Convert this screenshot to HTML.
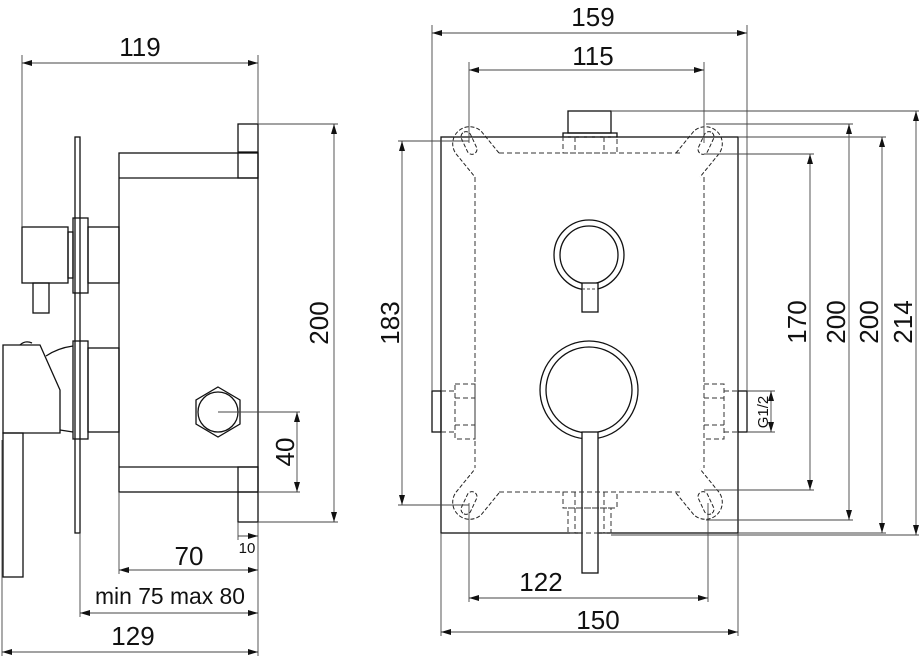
<!DOCTYPE html>
<html><head><meta charset="utf-8"><style>
html,body{margin:0;padding:0;background:#fff;}
svg{display:block;}
text{font-family:"Liberation Sans",sans-serif;fill:#111;}
</style></head><body>
<svg width="920" height="662" viewBox="0 0 920 662" xmlns="http://www.w3.org/2000/svg">
<defs>
<marker id="a" viewBox="0 0 10 6" refX="10" refY="3" markerWidth="10" markerHeight="6" orient="auto-start-reverse" markerUnits="userSpaceOnUse"><path d="M0 0 L10 3 L0 6 Z" fill="#111"/></marker>
<g id="lug">
<path d="M30 10 L12 -12 A17 17 0 0 0 -12 12 L6 34" fill="none" stroke="#222" stroke-width="1" stroke-dasharray="4 2"/>
<rect x="-5" y="-12" width="10" height="24" rx="5" transform="rotate(-25)" fill="none" stroke="#222" stroke-width="1" stroke-dasharray="4 2"/>
</g>
</defs>

<!-- ============ LEFT VIEW ============ -->
<g fill="none" stroke="#111" stroke-width="1.3">
<rect x="75" y="137" width="5" height="396"/>
<rect x="119" y="153" width="139" height="339"/>
<line x1="119" y1="178" x2="258" y2="178"/>
<line x1="119" y1="467" x2="258" y2="467"/>
<rect x="238" y="124" width="20" height="54"/>
<line x1="238" y1="152" x2="258" y2="152"/>
<rect x="238" y="467" width="20" height="55"/>
<line x1="238" y1="492" x2="258" y2="492"/>
<rect x="73" y="218" width="15" height="75"/>
<rect x="88" y="227" width="31" height="56"/>
<rect x="22" y="227" width="46" height="56"/>
<rect x="68" y="232" width="5" height="46"/>
<rect x="33" y="283" width="16" height="30"/>
<rect x="73" y="341" width="15" height="98"/>
<rect x="88" y="348" width="31" height="84"/>
<path d="M3 345 L40 345 L60 390 L60 433 L3 433 Z"/>
<path d="M20 345 Q25 340 32 343" />
<path d="M46 356 Q58 348 73 346"/>
<path d="M60 430 L73 432"/>
<rect x="3" y="433" width="20" height="144"/>
<polygon points="218,387 240,400 240,424 218,437 196,424 196,400"/>
<circle cx="218" cy="412" r="20"/>
</g>

<g stroke="#444" stroke-width="0.9" fill="none">
<line x1="22" y1="55" x2="22" y2="227"/>
<line x1="258" y1="55" x2="258" y2="124"/>
<line x1="22" y1="63" x2="258" y2="63" marker-start="url(#a)" marker-end="url(#a)"/>
<line x1="258" y1="124" x2="338" y2="124"/>
<line x1="258" y1="522" x2="338" y2="522"/>
<line x1="334" y1="124" x2="334" y2="522" marker-start="url(#a)" marker-end="url(#a)"/>
<line x1="218" y1="412" x2="300" y2="412"/>
<line x1="258" y1="492" x2="300" y2="492"/>
<line x1="297" y1="412" x2="297" y2="492" marker-start="url(#a)" marker-end="url(#a)"/>
<line x1="238" y1="522" x2="238" y2="540"/>
<line x1="238" y1="536" x2="258" y2="536" marker-end="url(#a)"/>
<line x1="119" y1="492" x2="119" y2="574"/>
<line x1="258" y1="522" x2="258" y2="656"/>
<line x1="119" y1="570" x2="258" y2="570" marker-start="url(#a)" marker-end="url(#a)"/>
<line x1="80" y1="533" x2="80" y2="617"/>
<line x1="80" y1="613" x2="258" y2="613" marker-start="url(#a)" marker-end="url(#a)"/>
<line x1="2" y1="440" x2="2" y2="656"/>
<line x1="2" y1="652" x2="258" y2="652" marker-start="url(#a)" marker-end="url(#a)"/>
</g>
<text x="140" y="56" font-size="26" text-anchor="middle">119</text>
<text transform="translate(328,323) rotate(-90)" font-size="26" text-anchor="middle">200</text>
<text transform="translate(294,452) rotate(-90)" font-size="26" text-anchor="middle">40</text>
<text x="247" y="553" font-size="15" text-anchor="middle">10</text>
<text x="189" y="565" font-size="26" text-anchor="middle">70</text>
<text x="170" y="604" font-size="23" text-anchor="middle" textLength="150" lengthAdjust="spacingAndGlyphs">min 75  max 80</text>
<text x="133" y="645" font-size="26" text-anchor="middle">129</text>

<!-- ============ RIGHT VIEW ============ -->
<g fill="none" stroke="#111" stroke-width="1.3">
<rect x="441" y="137" width="297" height="396"/>
<rect x="568" y="111" width="43" height="22"/>
<rect x="563" y="133" width="54" height="4"/>
<rect x="432" y="391" width="9" height="41"/>
<rect x="738" y="391" width="9" height="41"/>
<circle cx="589" cy="255" r="35"/>
<circle cx="589" cy="255" r="29"/>
<circle cx="589" cy="390" r="49"/>
<circle cx="589" cy="390" r="43"/>
</g>
<rect x="582" y="283" width="16" height="29" fill="#fff" stroke="#111" stroke-width="1.3"/>
<rect x="582" y="432" width="16" height="141" fill="#fff" stroke="#111" stroke-width="1.3"/>
<line x1="582" y1="289" x2="598" y2="289" stroke="#444" stroke-dasharray="3 2"/>

<g fill="none" stroke="#333" stroke-width="1" stroke-dasharray="5 3">
<line x1="499" y1="153" x2="680" y2="153"/>
<line x1="499" y1="492" x2="680" y2="492"/>
<line x1="475" y1="177" x2="475" y2="468"/>
<line x1="704" y1="177" x2="704" y2="468"/>
<rect x="563" y="137" width="54" height="16"/>
<line x1="575" y1="137" x2="575" y2="153"/><line x1="604" y1="137" x2="604" y2="153"/>
<rect x="563" y="492" width="54" height="16"/>
<rect x="568" y="508" width="43" height="25"/>
<line x1="575" y1="492" x2="575" y2="533"/><line x1="604" y1="492" x2="604" y2="533"/>
<rect x="455" y="384" width="20" height="55"/>
<line x1="455" y1="398" x2="475" y2="398"/><line x1="455" y1="425" x2="475" y2="425"/>
<line x1="441" y1="391" x2="455" y2="391"/><line x1="441" y1="432" x2="455" y2="432"/>
<rect x="704" y="384" width="20" height="55"/>
<line x1="704" y1="398" x2="724" y2="398"/><line x1="704" y1="425" x2="724" y2="425"/>
<line x1="724" y1="391" x2="738" y2="391"/><line x1="724" y1="432" x2="738" y2="432"/>
</g>
<use href="#lug" transform="translate(469,143)"/>
<use href="#lug" transform="translate(706,143) scale(-1,1)"/>
<use href="#lug" transform="translate(469,503) scale(1,-1)"/>
<use href="#lug" transform="translate(706,503) scale(-1,-1)"/>

<g stroke="#444" stroke-width="0.9" fill="none">
<line x1="432" y1="25" x2="432" y2="391"/>
<line x1="747" y1="25" x2="747" y2="391"/>
<line x1="432" y1="33" x2="747" y2="33" marker-start="url(#a)" marker-end="url(#a)"/>
<line x1="469" y1="62" x2="469" y2="143"/>
<line x1="704" y1="62" x2="704" y2="143"/>
<line x1="469" y1="70" x2="704" y2="70" marker-start="url(#a)" marker-end="url(#a)"/>
<line x1="469" y1="503" x2="469" y2="602"/>
<line x1="708" y1="503" x2="708" y2="602"/>
<line x1="469" y1="598" x2="708" y2="598" marker-start="url(#a)" marker-end="url(#a)"/>
<line x1="441" y1="533" x2="441" y2="636"/>
<line x1="738" y1="533" x2="738" y2="636"/>
<line x1="441" y1="632" x2="738" y2="632" marker-start="url(#a)" marker-end="url(#a)"/>
<line x1="398" y1="141" x2="469" y2="141"/>
<line x1="398" y1="505" x2="469" y2="505"/>
<line x1="402" y1="141" x2="402" y2="505" marker-start="url(#a)" marker-end="url(#a)"/>
<line x1="704" y1="154" x2="814" y2="154"/>
<line x1="704" y1="490" x2="814" y2="490"/>
<line x1="810" y1="154" x2="810" y2="490" marker-start="url(#a)" marker-end="url(#a)"/>
<line x1="706" y1="124" x2="853" y2="124"/>
<line x1="706" y1="520" x2="853" y2="520"/>
<line x1="849" y1="124" x2="849" y2="520" marker-start="url(#a)" marker-end="url(#a)"/>
<line x1="738" y1="137" x2="886" y2="137"/>
<line x1="738" y1="533" x2="886" y2="533"/>
<line x1="882" y1="137" x2="882" y2="533" marker-start="url(#a)" marker-end="url(#a)"/>
<line x1="611" y1="111" x2="919" y2="111"/>
<line x1="611" y1="535" x2="919" y2="535"/>
<line x1="916" y1="111" x2="916" y2="535" marker-start="url(#a)" marker-end="url(#a)"/>
<line x1="747" y1="391" x2="775" y2="391"/>
<line x1="747" y1="432" x2="775" y2="432"/>
<line x1="771" y1="391" x2="771" y2="432" marker-start="url(#a)" marker-end="url(#a)"/>
</g>
<text x="593" y="26" font-size="26" text-anchor="middle">159</text>
<text x="593" y="65" font-size="26" text-anchor="middle">115</text>
<text x="541" y="591" font-size="26" text-anchor="middle">122</text>
<text x="598" y="629" font-size="26" text-anchor="middle">150</text>
<text transform="translate(399,323) rotate(-90)" font-size="26" text-anchor="middle">183</text>
<text transform="translate(806,322) rotate(-90)" font-size="26" text-anchor="middle">170</text>
<text transform="translate(845,322) rotate(-90)" font-size="26" text-anchor="middle">200</text>
<text transform="translate(878,322) rotate(-90)" font-size="26" text-anchor="middle">200</text>
<text transform="translate(912,322) rotate(-90)" font-size="26" text-anchor="middle">214</text>
<text transform="translate(768,412) rotate(-90)" font-size="15" text-anchor="middle">G1/2</text>
</svg>
</body></html>
